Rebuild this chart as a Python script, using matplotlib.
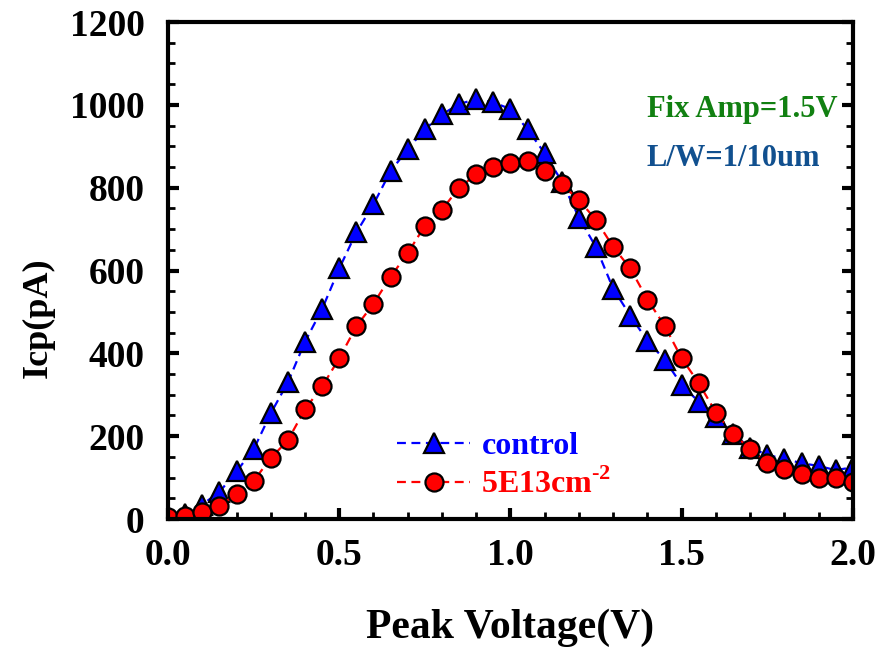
import numpy as np
import matplotlib
matplotlib.use("Agg")
import matplotlib.pyplot as plt
from matplotlib.ticker import MultipleLocator

plt.rcParams['font.family'] = ['Liberation Serif', 'DejaVu Serif']
plt.rcParams['font.weight'] = 'bold'
plt.rcParams['mathtext.fontset'] = 'custom'
plt.rcParams['mathtext.rm'] = 'Liberation Serif:bold'
plt.rcParams['mathtext.bf'] = 'Liberation Serif:bold'

# peak voltage sweep (V)
voltage = [0.00, 0.05, 0.10, 0.15, 0.20, 0.25, 0.30, 0.35, 0.40, 0.45,
           0.50, 0.55, 0.60, 0.65, 0.70, 0.75, 0.80, 0.85, 0.90, 0.95,
           1.00, 1.05, 1.10, 1.15, 1.20, 1.25, 1.30, 1.35, 1.40, 1.45,
           1.50, 1.55, 1.60, 1.65, 1.70, 1.75, 1.80, 1.85, 1.90, 1.95, 2.00]

# Icp (pA)
control = [5, 12, 35, 65, 115, 168, 255, 330, 428, 507,
           605, 692, 760, 840, 893, 941, 977, 1002, 1014, 1006,
           990, 941, 883, 815, 728, 656, 556, 491, 430, 385,
           324, 283, 247, 205, 172, 155, 145, 135, 128, 118, 125]
implant = [5, 7, 18, 32, 60, 92, 147, 190, 265, 320,
           388, 465, 520, 585, 642, 708, 747, 800, 832, 850,
           860, 865, 840, 808, 770, 722, 657, 605, 530, 467,
           388, 328, 257, 205, 170, 135, 120, 108, 100, 100, 90]

fig = plt.figure(figsize=(8.82, 6.53), dpi=100)
ax = fig.add_axes([0.1905, 0.2052, 0.7765, 0.761])

ax.plot(voltage, control, ls=(0, (4, 2.5)), lw=1.6, color='blue',
        marker='^', ms=14, mfc='blue', mec='black', mew=1.6, label='control')
ax.plot(voltage, implant, ls=(0, (4, 2.5)), lw=1.6, color='red',
        marker='o', ms=13, mfc='red', mec='black', mew=1.6,
        label=r'5E13cm$^{\text{-2}}$')

ax.set_xlim(0, 2.0)
ax.set_ylim(0, 1200)
ax.xaxis.set_major_locator(MultipleLocator(0.5))
ax.xaxis.set_minor_locator(MultipleLocator(0.1))
ax.yaxis.set_major_locator(MultipleLocator(200))
ax.yaxis.set_minor_locator(MultipleLocator(50))
ax.xaxis.set_major_formatter(plt.FormatStrFormatter('%.1f'))

for s in ax.spines.values():
    s.set_linewidth(3)
ax.tick_params(which='both', direction='in', right=True, top=False, labelsize=27)
ax.tick_params(which='major', length=8, width=3)
ax.tick_params(which='minor', length=5, width=2)
ax.tick_params(axis='x', which='major', pad=14)
ax.tick_params(axis='y', which='major', pad=17)

ax.set_xlabel('Peak Voltage(V)', fontsize=30, fontweight='bold')
ax.set_ylabel('Icp(pA)', fontsize=26, fontweight='bold')
ax.xaxis.set_label_coords(0.5, -0.181)
ax.yaxis.set_label_coords(-0.165, 0.406)

leg = ax.legend(loc='upper left', bbox_to_anchor=(0.334, 0.176), frameon=False,
                fontsize=23, handlelength=2.3, handletextpad=0.35,
                labelspacing=0.25, borderpad=0, borderaxespad=0)
for t, c in zip(leg.get_texts(), ['blue', 'red']):
    t.set_color(c)

ax.text(0.699, 0.825, 'Fix Amp=1.5V', transform=ax.transAxes, fontsize=22,
        color='#118011', fontweight='bold', va='center')
ax.text(0.699, 0.725, 'L/W=1/10um', transform=ax.transAxes, fontsize=22,
        color='#11508F', fontweight='bold', va='center')

fig.savefig('out.png', dpi=100)
